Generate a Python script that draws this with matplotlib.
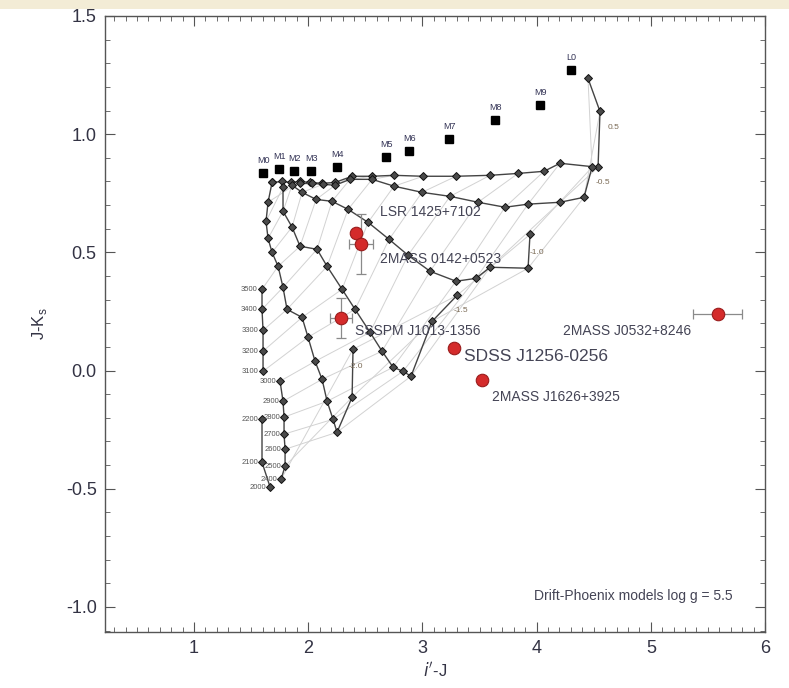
import matplotlib
matplotlib.use('Agg')
import matplotlib.pyplot as plt
from matplotlib.ticker import MultipleLocator
from matplotlib.patches import Rectangle

plt.rcParams['font.family'] = ['Liberation Sans', 'DejaVu Sans']
plt.rcParams['axes.unicode_minus'] = False

# ---- spectral standards (black squares) ----
spt_labels = ['M0', 'M1', 'M2', 'M3', 'M4', 'M5', 'M6', 'M7', 'M8', 'M9', 'L0']
spt_x = [1.604, 1.744, 1.876, 2.025, 2.252, 2.681, 2.883, 3.233, 3.636, 4.030, 4.301]
spt_y = [0.834, 0.851, 0.843, 0.843, 0.860, 0.902, 0.927, 0.978, 1.058, 1.122, 1.270]

# ---- Drift-Phoenix model tracks (one per metallicity) ----
trk1_x = [1.683, 1.771, 1.849, 1.928, 2.016, 2.121, 2.235, 2.384, 2.559, 2.751, 3.005,
          3.294, 3.592, 3.837, 4.065, 4.205, 4.538, 4.555, 4.450]
trk1_y = [0.796, 0.800, 0.796, 0.800, 0.796, 0.792, 0.796, 0.822, 0.822, 0.826, 0.822,
          0.822, 0.826, 0.834, 0.843, 0.877, 0.860, 1.096, 1.236]
trk2_x = [1.928, 2.033, 2.130, 2.235, 2.366, 2.559, 2.751, 2.996, 3.242, 3.487, 3.723,
          3.925, 4.205, 4.415, 4.485]
trk2_y = [0.792, 0.792, 0.788, 0.784, 0.809, 0.809, 0.780, 0.754, 0.737, 0.712, 0.691,
          0.704, 0.712, 0.733, 0.860]
trk3_x = [1.858, 1.946, 2.069, 2.208, 2.349, 2.524, 2.708, 2.874, 3.067, 3.294, 3.469,
          3.592, 3.925, 3.942]
trk3_y = [0.784, 0.754, 0.724, 0.716, 0.682, 0.627, 0.555, 0.488, 0.420, 0.378, 0.390,
          0.437, 0.433, 0.576]
trk4_x = [1.779, 1.779, 1.858, 1.928, 2.077, 2.165, 2.296, 2.410, 2.541, 2.646, 2.743,
          2.830, 2.900, 3.084, 3.303]
trk4_y = [0.775, 0.674, 0.607, 0.526, 0.513, 0.441, 0.344, 0.259, 0.162, 0.082, 0.014,
          -0.003, -0.024, 0.208, 0.318]
trk5_x = [1.683, 1.648, 1.630, 1.648, 1.683, 1.736, 1.779, 1.814, 1.946, 1.998, 2.060,
          2.121, 2.165, 2.217, 2.252, 2.384, 2.392]
trk5_y = [0.796, 0.712, 0.631, 0.559, 0.500, 0.441, 0.352, 0.259, 0.225, 0.141, 0.039,
          -0.037, -0.130, -0.206, -0.261, -0.113, 0.090]
trk_labels = ['0.5', '-0.5', '-1.0', '-1.5', '-2.0']
trk_lab_x = [4.67, 4.58, 4.00, 3.34, 2.42]
trk_lab_y = [1.03, 0.796, 0.50, 0.255, 0.018]

# lowest-metallicity columns with Teff labels
col1_x = [1.595, 1.595, 1.604, 1.604, 1.604]
col1_y = [0.344, 0.259, 0.170, 0.082, -0.003]
col1_teff = ['3500', '3400', '3300', '3200', '3100']
col2_x = [1.753, 1.779, 1.788, 1.788, 1.797, 1.797, 1.762]
col2_y = [-0.045, -0.130, -0.197, -0.269, -0.333, -0.404, -0.460]
col2_teff = ['3000', '2900', '2800', '2700', '2600', '2500', '2400']
col3_x = [1.595, 1.595, 1.666]
col3_y = [-0.206, -0.388, -0.493]
col3_teff = ['2200', '2100', '2000']

# ---- observed objects (red circles) ----
obj_names = ['LSR 1425+7102', '2MASS 0142+0523', 'SSSPM J1013-1356',
             'SDSS J1256-0256', '2MASS J1626+3925', '2MASS J0532+8246']
obj_x = [2.419, 2.462, 2.287, 3.277, 3.522, 5.585]
obj_y = [0.581, 0.534, 0.221, 0.095, -0.041, 0.238]
obj_xerr = [0.0, 0.105, 0.095, 0.0, 0.0, 0.215]
obj_yerr = [0.0, 0.127, 0.085, 0.0, 0.0, 0.0]
lab_x = [2.63, 2.63, 2.41, 3.36, 3.61, 4.23]
lab_y = [0.67, 0.47, 0.166, 0.061, -0.11, 0.166]
lab_size = [10, 10, 10, 12.5, 10, 10]

fig = plt.figure(figsize=(7.89, 6.88), dpi=100)
fig.patches.append(Rectangle((0, 1 - 9 / 688), 1, 9 / 688, transform=fig.transFigure,
                             facecolor='#f3ecd6', edgecolor='none', zorder=0))
ax = fig.add_axes([105 / 789, 1 - 632 / 688, 660 / 789, 616 / 688])
ax.set_xlim(0.22, 6.0)
ax.set_ylim(-1.106, 1.5)

# iso-Teff connecting lines
grid_tracks = [(col1_x + col2_x, col1_y + col2_y), (trk5_x, trk5_y), (trk4_x, trk4_y),
               (trk3_x, trk3_y), (trk2_x, trk2_y), (trk1_x, trk1_y)]
maxn = max(len(t[0]) for t in grid_tracks)
for k in range(1, maxn + 1):
    gx = [t[0][-k] for t in grid_tracks if len(t[0]) >= k]
    gy = [t[1][-k] for t in grid_tracks if len(t[1]) >= k]
    if len(gx) > 1:
        ax.plot(gx, gy, color='#d2d2d2', lw=0.7, zorder=1)

mk = dict(marker='D', ms=4.5, mfc='#4a4a4a', mec='#111111', mew=0.7)
for xs, ys in [(trk1_x, trk1_y), (trk2_x, trk2_y), (trk3_x, trk3_y),
               (trk4_x, trk4_y), (trk5_x, trk5_y), (col1_x, col1_y),
               (col2_x, col2_y), (col3_x, col3_y)]:
    ax.plot(xs, ys, '-', color='#444444', lw=1.0, zorder=3, **mk)

for lx, ly, lt in zip(trk_lab_x, trk_lab_y, trk_labels):
    ax.text(lx, ly, lt, fontsize=6, color='#7a6a55', ha='center', va='center', zorder=4)

for xs, ys, ts in [(col1_x, col1_y, col1_teff), (col2_x, col2_y, col2_teff),
                   (col3_x, col3_y, col3_teff)]:
    for x, y, t in zip(xs, ys, ts):
        ax.annotate(t, (x, y), xytext=(-3, 0), textcoords='offset points',
                    fontsize=5.5, color='#555555', ha='right', va='center', zorder=4)

# spectral standards
ax.plot(spt_x, spt_y, 's', color='black', ms=6, zorder=5, ls='none')
for x, y, t in zip(spt_x, spt_y, spt_labels):
    ax.annotate(t, (x, y), xytext=(0, 6), textcoords='offset points', fontsize=6.5,
                color='#333355', ha='center', va='bottom', zorder=5)

# objects
for x, y, xe, ye in zip(obj_x, obj_y, obj_xerr, obj_yerr):
    if xe > 0 or ye > 0:
        ax.errorbar(x, y, xerr=xe if xe > 0 else None, yerr=ye if ye > 0 else None,
                    fmt='none', ecolor='#8a8a8a', elinewidth=0.9, capsize=3.5,
                    capthick=0.9, zorder=6)
ax.plot(obj_x, obj_y, 'o', ms=9, mfc='#d42b2b', mec='#9a1c1c', mew=0.8, zorder=7, ls='none')
for x, y, t, s in zip(lab_x, lab_y, obj_names, lab_size):
    ax.text(x, y, t, fontsize=s, color='#444455', ha='left', va='center', zorder=8)

ax.text(5.72, -0.955, 'Drift-Phoenix models log g = 5.5', fontsize=10, color='#444455',
        ha='right', va='center')

ax.xaxis.set_major_locator(MultipleLocator(1))
ax.xaxis.set_minor_locator(MultipleLocator(0.1))
ax.yaxis.set_major_locator(MultipleLocator(0.5))
ax.yaxis.set_minor_locator(MultipleLocator(0.1))
ax.tick_params(which='both', direction='in', top=True, right=True, color='#555555')
ax.tick_params(which='major', length=7, width=0.8, labelsize=13, labelcolor='#333344', pad=6)
ax.tick_params(which='minor', length=3.5, width=0.6)
for sp in ax.spines.values():
    sp.set_color('#555555')
    sp.set_linewidth(1.0)

ax.set_xlabel(r"$i'$-J", fontsize=12, color='#333344', labelpad=2)
ax.set_ylabel(r"J-K$_\mathregular{s}$", fontsize=12, color='#333344', labelpad=12)

fig.savefig('out.png', dpi=100)
